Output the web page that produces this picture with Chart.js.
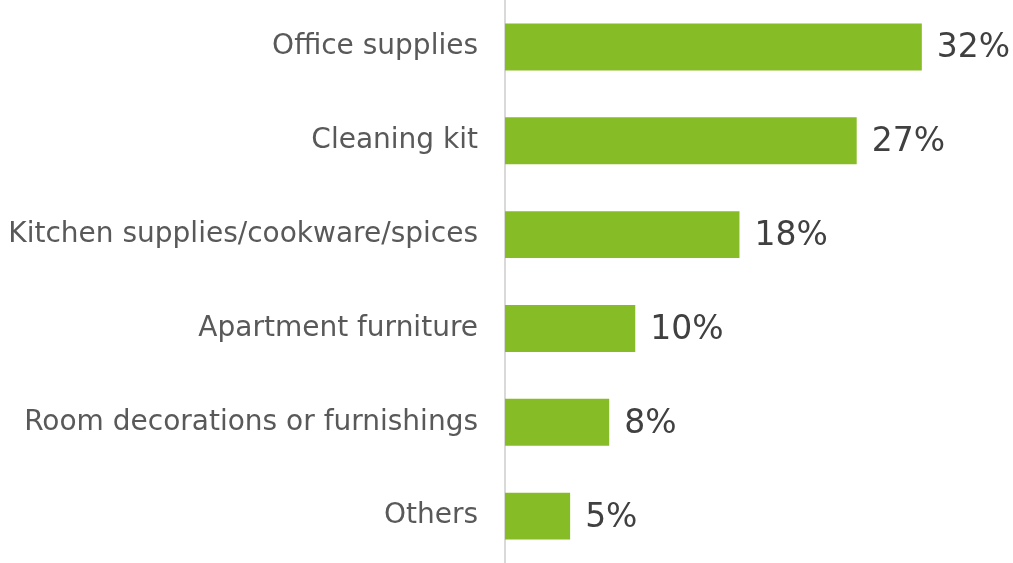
<!DOCTYPE html>
<html lang="en">
<head>
    <meta charset="UTF-8">
    <title>Items purchased</title>
    <script src="https://cdn.jsdelivr.net/npm/chart.js"></script>
    <style>
        body {
            margin: 0;
            background-color: #ffffff;
        }
        .wrap {
            width: 1013px;
            height: 563px;
            position: relative;
        }
    </style>
</head>
<body>
    <div class="wrap">
        <canvas id="itemsChart"></canvas>
    </div>

    <script>
        // share of respondents per item category
        const categories = [
            'Office supplies',
            'Cleaning kit',
            'Kitchen supplies/cookware/spices',
            'Apartment furniture',
            'Room decorations or furnishings',
            'Others'
        ]
        const shares = [32, 27, 18, 10, 8, 5]

        // write the % next to the end of each bar
        const valueLabels = {
            id: 'valueLabels',
            afterDatasetsDraw(chart) {
                let ctx = chart.ctx
                let meta = chart.getDatasetMeta(0)
                ctx.save()
                ctx.font = '33px "DejaVu Sans", Verdana, sans-serif'
                ctx.fillStyle = '#404040'
                ctx.textAlign = 'left'
                ctx.textBaseline = 'middle'
                meta.data.forEach((bar, i) => {
                    ctx.fillText(shares[i] + '%', bar.x + 15, bar.y + 2)
                })
                ctx.restore()
            }
        }

        let ctx = document.getElementById('itemsChart').getContext('2d')
        let itemsChart = new Chart(ctx, {
            type: 'bar',
            data: {
                labels: categories,
                datasets: [{
                    data: shares,
                    backgroundColor: '#86bc25',
                    categoryPercentage: 1,
                    barPercentage: 0.5
                }]
            },
            options: {
                indexAxis: 'y',
                responsive: true,
                maintainAspectRatio: false,
                animation: false,
                layout: {padding: 0},
                plugins: {
                    legend: {display: false},
                    tooltip: {enabled: false}
                },
                scales: {
                    x: {
                        display: false,
                        min: 0,
                        max: 39
                    },
                    y: {
                        afterFit(scale) {
                            scale.width = 505
                            // tick padding shouldn't shrink the plot vertically
                            scale.paddingTop = 0
                            scale.paddingBottom = 0
                        },
                        grid: {display: false, drawTicks: false},
                        border: {display: true, color: '#d9d9d9', width: 2},
                        ticks: {
                            padding: 27,
                            color: '#595959',
                            font: {family: '"DejaVu Sans", Verdana, sans-serif', size: 28}
                        }
                    }
                }
            },
            plugins: [valueLabels]
        })
    </script>
</body>
</html>
